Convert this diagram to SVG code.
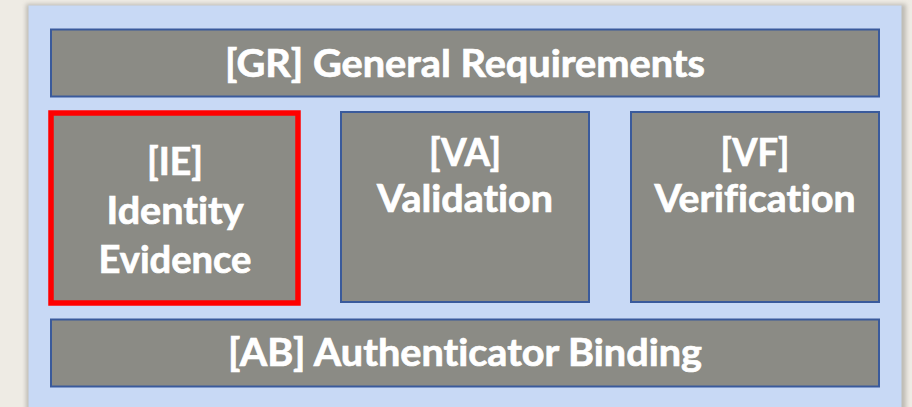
<svg xmlns="http://www.w3.org/2000/svg" width="912" height="407" viewBox="0 0 912 407">
  <defs>
    <filter id="shadow" x="-5%" y="-5%" width="110%" height="110%">
      <feGaussianBlur stdDeviation="2"/>
    </filter>
  </defs>
  <style>
    .box { fill: #8B8B85; stroke: #3A5A9B; stroke-width: 2; }
    .sel { fill: #8B8B85; stroke: #FF0000; stroke-width: 5.5; }
    .lbl { font-family: Lato, "Open Sans", "Liberation Sans", sans-serif; font-weight: bold; font-size: 38px; fill: #FFFFFF; stroke: #FFFFFF; stroke-width: 0.7; text-anchor: middle; font-variant-ligatures: none; font-feature-settings: "liga" 0, "clig" 0; }
  </style>
  <rect x="0" y="0" width="912" height="407" fill="#EEEBE4"/>
  <rect x="26" y="4" width="880" height="420" fill="#9E9B95" opacity="0.6" filter="url(#shadow)"/>
  <rect id="panel" x="28.5" y="5.5" width="873" height="410" fill="#C8D9F5"/>

  <g id="GR">
    <rect class="box" x="51" y="29.5" width="828" height="67"/>
    <text class="lbl" x="465" y="77" textLength="480" lengthAdjust="spacingAndGlyphs">[GR] General Requirements</text>
  </g>

  <g id="IE">
    <rect class="sel" x="51" y="113" width="247" height="190"/>
    <text class="lbl" x="175" y="175" textLength="56" lengthAdjust="spacingAndGlyphs">[IE]</text>
    <text class="lbl" x="175" y="224" textLength="137" lengthAdjust="spacingAndGlyphs">Identity</text>
    <text class="lbl" x="175" y="273" textLength="153" lengthAdjust="spacingAndGlyphs">Evidence</text>
  </g>

  <g id="VA">
    <rect class="box" x="341" y="112" width="248" height="190"/>
    <text class="lbl" x="465" y="166" textLength="72" lengthAdjust="spacingAndGlyphs">[VA]</text>
    <text class="lbl" x="465" y="211.5" textLength="176" lengthAdjust="spacingAndGlyphs">Validation</text>
  </g>

  <g id="VF">
    <rect class="box" x="631" y="112" width="248" height="190"/>
    <text class="lbl" x="755" y="166" textLength="69" lengthAdjust="spacingAndGlyphs">[VF]</text>
    <text class="lbl" x="755" y="211.5" textLength="201" lengthAdjust="spacingAndGlyphs">Verification</text>
  </g>

  <g id="AB">
    <rect class="box" x="51" y="319.5" width="828" height="67"/>
    <text class="lbl" x="465" y="366" textLength="474" lengthAdjust="spacingAndGlyphs">[AB] Authenticator Binding</text>
  </g>

  <g id="connectors"></g>
</svg>
